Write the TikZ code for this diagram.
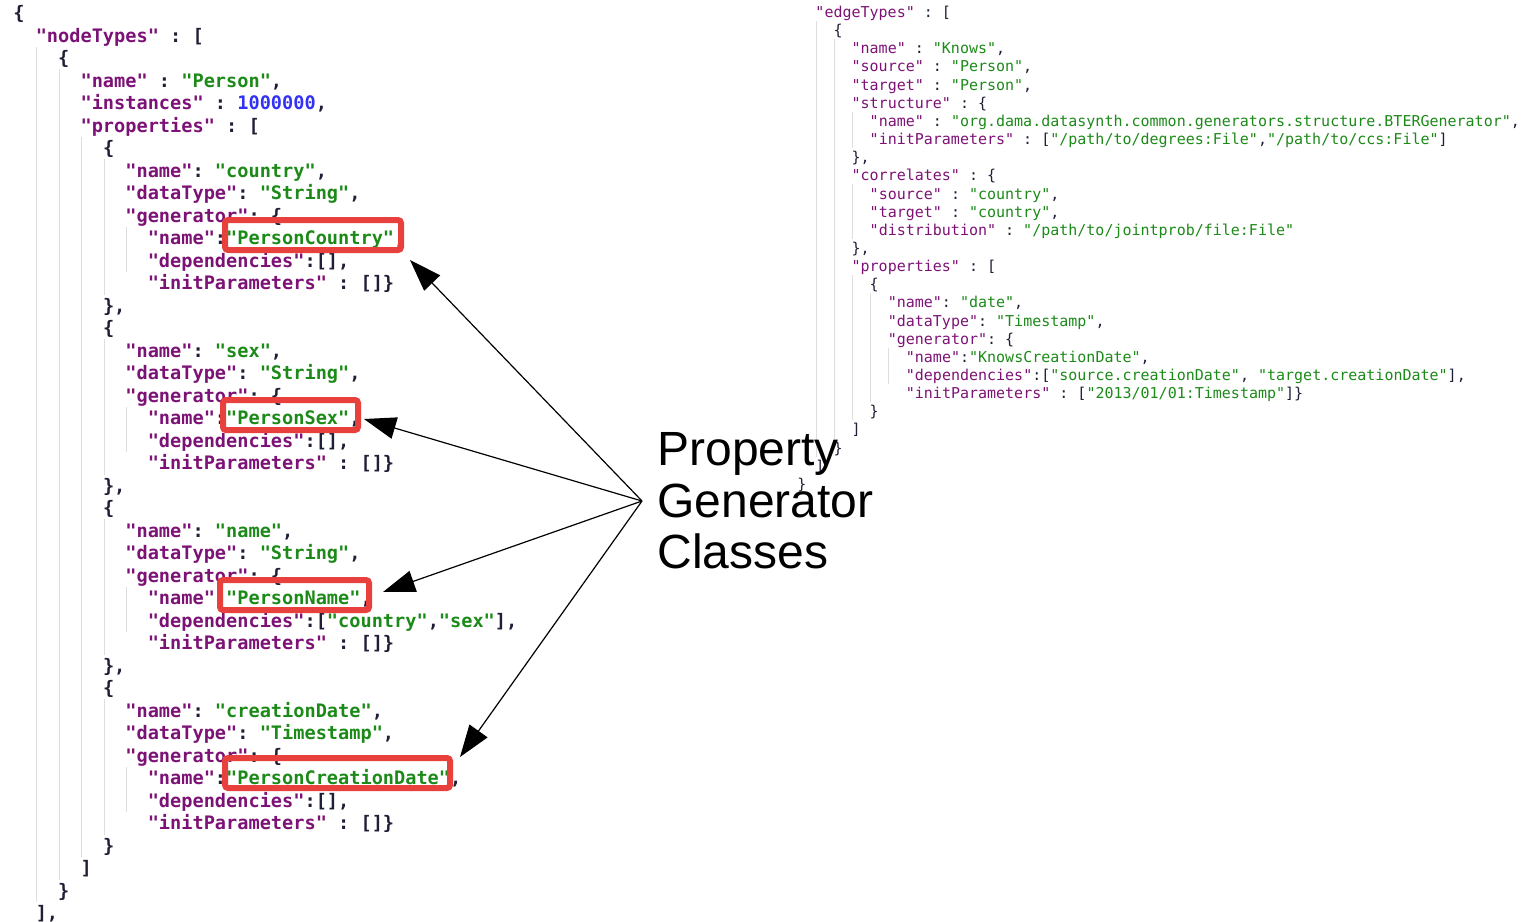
\documentclass[tikz,border=0pt]{standalone}
\usepackage{fontspec}
\setsansfont{Liberation Sans}
\setmonofont{DejaVu Sans Mono}
\usetikzlibrary{arrows.meta}

\definecolor{jsonkey}{RGB}{125,18,118}
\definecolor{jsonstr}{RGB}{28,138,24}
\definecolor{jsonnum}{RGB}{50,50,245}
\definecolor{jsonpunct}{RGB}{30,30,55}
\definecolor{hlred}{RGB}{232,64,60}
\definecolor{guidegray}{RGB}{222,222,222}

\newcommand{\jkey}[1]{\textcolor{jsonkey}{"#1"}}
\newcommand{\jstr}[1]{\textcolor{jsonstr}{"#1"}}
\newcommand{\jnum}[1]{\textcolor{jsonnum}{#1}}
% one line of code: line number, column, text
\newcommand{\codeL}[3]{\node[lcode] (L#1) at ({13+11.2*#2},{19.5+22.5*#1}) {#3};}
\newcommand{\codeR}[3]{\node[rcode] (R#1) at ({797+9.04*#2},{17.5+18.15*#1}) {#3};}

\begin{document}
\begin{tikzpicture}[x=0.5pt, y=-0.5pt,
		lcode/.style={anchor=base west, inner sep=0pt, text=jsonpunct,
			font=\ttfamily\bfseries\frenchspacing\fontsize{9.3}{11}\selectfont},
		rcode/.style={anchor=base west, inner sep=0pt, text=jsonpunct,
			font=\ttfamily\frenchspacing\fontsize{7.5}{9}\selectfont},
		guide/.style={guidegray, line width=0.5pt},
		hl/.style={draw=hlred, line width=3pt, rounded corners=1.5pt, inner sep=0pt, minimum height=15pt},
		ptr/.style={-{Triangle[length=16pt,width=11pt]}, line width=0.6pt}]
		\useasboundingbox (0,0) rectangle (1523,922);
		
		% indent guides
		\foreach \c/\a/\b in {2/1/40, 4/2/39, 6/5/38, 8/6/13, 8/14/21, 8/22/29, 8/30/37,
			10/9/12, 10/17/20, 10/25/28, 10/33/36}
		\draw[guide] ({13+11.2*\c+1.5},{13+22.5*\a+11}) -- ({13+11.2*\c+1.5},{13+22.5*\b-11});
		\foreach \c/\a/\b in {2/0/25, 4/1/24, 6/5/8, 6/9/13, 6/14/23, 8/15/22, 10/18/21}
		\draw[guide] ({797+9.04*\c+1.5},{12+18.15*\a+9}) -- ({797+9.04*\c+1.5},{12+18.15*\b-9});
		
		% node types
		\codeL{0}{0}{\{}
		\codeL{1}{2}{\jkey{nodeTypes} : [}
		\codeL{2}{4}{\{}
		\codeL{3}{6}{\jkey{name} : \jstr{Person},}
		\codeL{4}{6}{\jkey{instances} : \jnum{1000000},}
		\codeL{5}{6}{\jkey{properties} : [}
		\codeL{6}{8}{\{}
		\codeL{7}{10}{\jkey{name}: \jstr{country},}
		\codeL{8}{10}{\jkey{dataType}: \jstr{String},}
		\codeL{9}{10}{\jkey{generator}: \{}
		\codeL{10}{12}{\jkey{name}:\jstr{PersonCountry},}
		\codeL{11}{12}{\jkey{dependencies}:[],}
		\codeL{12}{12}{\jkey{initParameters} : []\}}
		\codeL{13}{8}{\},}
		\codeL{14}{8}{\{}
		\codeL{15}{10}{\jkey{name}: \jstr{sex},}
		\codeL{16}{10}{\jkey{dataType}: \jstr{String},}
		\codeL{17}{10}{\jkey{generator}: \{}
		\codeL{18}{12}{\jkey{name}:\jstr{PersonSex},}
		\codeL{19}{12}{\jkey{dependencies}:[],}
		\codeL{20}{12}{\jkey{initParameters} : []\}}
		\codeL{21}{8}{\},}
		\codeL{22}{8}{\{}
		\codeL{23}{10}{\jkey{name}: \jstr{name},}
		\codeL{24}{10}{\jkey{dataType}: \jstr{String},}
		\codeL{25}{10}{\jkey{generator}: \{}
		\codeL{26}{12}{\jkey{name}:\jstr{PersonName},}
		\codeL{27}{12}{\jkey{dependencies}:[\jstr{country},\jstr{sex}],}
		\codeL{28}{12}{\jkey{initParameters} : []\}}
		\codeL{29}{8}{\},}
		\codeL{30}{8}{\{}
		\codeL{31}{10}{\jkey{name}: \jstr{creationDate},}
		\codeL{32}{10}{\jkey{dataType}: \jstr{Timestamp},}
		\codeL{33}{10}{\jkey{generator}: \{}
		\codeL{34}{12}{\jkey{name}:\jstr{PersonCreationDate},}
		\codeL{35}{12}{\jkey{dependencies}:[],}
		\codeL{36}{12}{\jkey{initParameters} : []\}}
		\codeL{37}{8}{\}}
		\codeL{38}{6}{]}
		\codeL{39}{4}{\}}
		\codeL{40}{2}{],}
		
		% edge types
		\codeR{0}{2}{\jkey{edgeTypes} : [}
		\codeR{1}{4}{\{}
		\codeR{2}{6}{\jkey{name} : \jstr{Knows},}
		\codeR{3}{6}{\jkey{source} : \jstr{Person},}
		\codeR{4}{6}{\jkey{target} : \jstr{Person},}
		\codeR{5}{6}{\jkey{structure} : \{}
		\codeR{6}{8}{\jkey{name} : \jstr{org.dama.datasynth.common.generators.structure.BTERGenerator},}
		\codeR{7}{8}{\jkey{initParameters} : [\jstr{/path/to/degrees:File},\jstr{/path/to/ccs:File}]}
		\codeR{8}{6}{\},}
		\codeR{9}{6}{\jkey{correlates} : \{}
		\codeR{10}{8}{\jkey{source} : \jstr{country},}
		\codeR{11}{8}{\jkey{target} : \jstr{country},}
		\codeR{12}{8}{\jkey{distribution} : \jstr{/path/to/jointprob/file:File}}
		\codeR{13}{6}{\},}
		\codeR{14}{6}{\jkey{properties} : [}
		\codeR{15}{8}{\{}
		\codeR{16}{10}{\jkey{name}: \jstr{date},}
		\codeR{17}{10}{\jkey{dataType}: \jstr{Timestamp},}
		\codeR{18}{10}{\jkey{generator}: \{}
		\codeR{19}{12}{\jkey{name}:\jstr{KnowsCreationDate},}
		\codeR{20}{12}{\jkey{dependencies}:[\jstr{source.creationDate}, \jstr{target.creationDate}],}
		\codeR{21}{12}{\jkey{initParameters} : [\jstr{2013/01/01:Timestamp}]\}}
		\codeR{22}{8}{\}}
		\codeR{23}{6}{]}
		\codeR{24}{4}{\}}
		\codeR{25}{2}{]}
		\codeR{26}{0}{\}}
		
		% label and highlighted generator names
		\node[font=\sffamily\fontsize{24}{25.75}\selectfont, align=left, anchor=west,
			inner xsep=7.5pt, inner ysep=0pt] (pgc) at (642,501) {Property\\Generator\\Classes};
		
		\node[hl, minimum width=88pt] (hlCountry) at (313,235) {};
		\node[hl, minimum width=67.5pt] (hlSex) at (290.5,415) {};
		\node[hl, minimum width=74.5pt] (hlName) at (294.5,595) {};
		\node[hl, minimum width=112.5pt] (hlDate) at (337.5,773) {};
		
		\coordinate (tCountry) at (410,260);
		\coordinate (tSex) at (364,419);
		\coordinate (tName) at (383,592);
		\coordinate (tDate) at (460,757);
		
		\draw[ptr] (pgc.west) -- (tCountry);
		\draw[ptr] (pgc.west) -- (tSex);
		\draw[ptr] (pgc.west) -- (tName);
		\draw[ptr] (pgc.west) -- (tDate);
	\end{tikzpicture}
\end{document}
